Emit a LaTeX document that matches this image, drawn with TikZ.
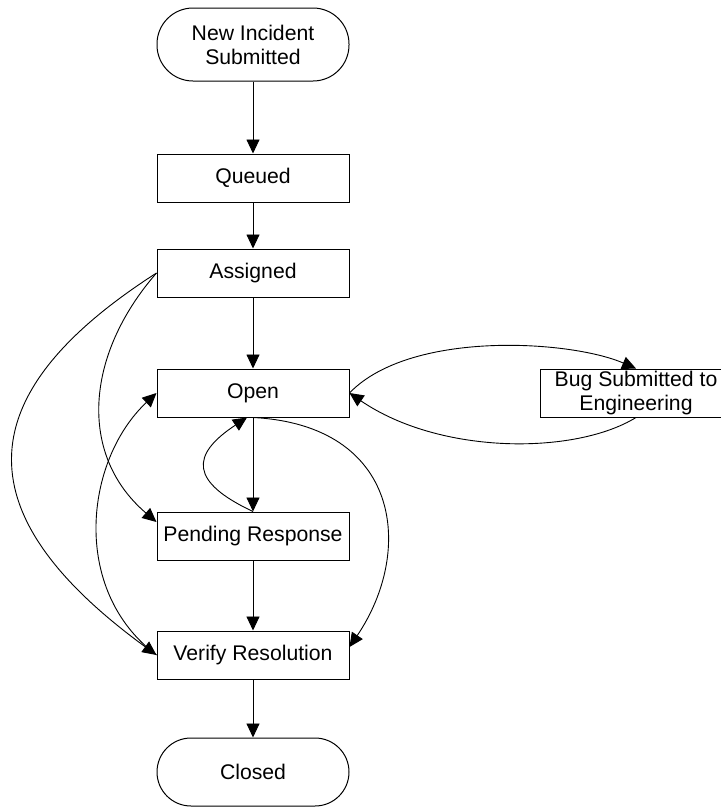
\documentclass[tikz,border=0pt]{standalone}
\usepackage{fontspec}
\setmainfont{Liberation Sans}
\usetikzlibrary{arrows.meta}
\begin{document}
\begin{tikzpicture}[x=1pt,y=-1pt,
  every node/.style={font=\fontsize{21.2}{24}\selectfont},
  box/.style={draw=black,line width=1pt,minimum width=192pt,minimum height=48pt,inner sep=0pt,align=center},
  term/.style={box,rounded corners=34pt,minimum height=70pt},
  arr/.style={line width=0.9pt,-{Triangle[length=14pt,width=13pt]}}]
\useasboundingbox (0,0) rectangle (721,807);
\clip (0,0) rectangle (721,807);
\fill[white] (0,0) rectangle (721,807);
\node[term,minimum height=73pt,rounded corners=36pt] (new) at (253,44.5) {New Incident\\Submitted};
\node[box] (queued) at (253,178) {Queued};
\node[box] (assigned) at (253,273) {Assigned};
\node[box] (open) at (253,393) {Open};
\node[box] (bug) at (636,393) {Bug Submitted to\\Engineering};
\node[box] (pending) at (253,536) {Pending Response};
\node[box] (verify) at (253,655) {Verify Resolution};
\node[term,minimum height=68pt] (closed) at (253,772) {Closed};

\draw[arr] (new) -- (queued);
\draw[arr] (queued) -- (assigned);
\draw[arr] (assigned) -- (open);
\draw[arr] (open) -- (pending);
\draw[arr] (pending) -- (verify);
\draw[arr] (verify) -- (closed);

\draw[arr] (open.east) .. controls (410,330) and (570,340) .. (bug.north);
\draw[arr] (bug.south) .. controls (575,455) and (440,455) .. (open.east);
\draw[arr] (pending.north) .. controls (190,482) and (190,455) .. ([xshift=-6pt]open.south);
\draw[arr] (open.south) .. controls (400,425) and (415,550) .. ([yshift=8pt]verify.east);
\draw[arr] (assigned.west) .. controls (85,355) and (78,455) .. ([yshift=14pt]pending.west);
\draw[arr] (assigned.west) .. controls (-40,399) and (-30,519) .. (verify.west);
\draw[arr] (verify.west) .. controls (70,590) and (85,460) .. (open.west);
\end{tikzpicture}
\end{document}
